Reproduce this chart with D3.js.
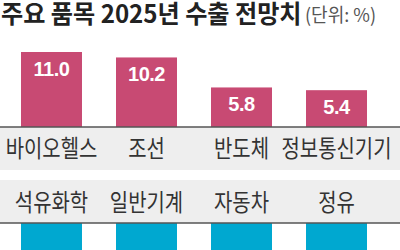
<!DOCTYPE html>
<html>
<head>
<meta charset="utf-8">
<script src="https://cdn.jsdelivr.net/npm/d3@7"></script>
<style>
  html, body { margin: 0; padding: 0; background: #fff; }
  svg { display: block; font-family: "Noto Sans CJK KR", "Noto Sans", sans-serif; }
</style>
</head>
<body>
<div id="chart"></div>
<script>
// chart data
const title = '주요 품목 2025년 수출 전망치';
const unitLabel = '(단위: %)';
const upCategories = ['바이오헬스', '조선', '반도체', '정보통신기기'];
const upValues = [11.0, 10.2, 5.8, 5.4];
const downCategories = ['석유화학', '일반기계', '자동차', '정유'];
const downValues = [-8.5, -8.2, -9.0, -11.5]; // cut off in the picture, estimated

const width = 400;
const height = 250;
const upBase = 127;
const downBase = 223;

const svg = d3.select('#chart')
  .append('svg')
  .attr('width', width)
  .attr('height', height);

// Title (the original font is a bit condensed, so squeeze it horizontally)
svg.append('text')
  .attr('transform', 'translate(1,23) scale(0.965,1)')
  .attr('font-size', 25)
  .attr('font-weight', 700)
  .attr('fill', '#222')
  .text(title);

svg.append('text')
  .attr('transform', 'translate(305,22) scale(0.95,1)')
  .attr('font-size', 19)
  .attr('fill', '#555')
  .text(unitLabel);

// Scales
const x = d3.scaleBand()
  .domain(d3.range(4))
  .range([0, 388])
  .paddingInner(0.358)
  .paddingOuter(0.221);

// px per unit shared by both halves
const yUp = d3.scaleLinear().domain([0, 11]).range([upBase, 52]);
const yDown = d3.scaleLinear().domain([0, -11]).range([downBase, downBase + (upBase - 52)]);

// Gray label bands
svg.append('rect')
  .attr('x', 0).attr('y', upBase)
  .attr('width', width).attr('height', 170 - upBase)
  .attr('fill', '#eeeeee');

svg.append('rect')
  .attr('x', 0).attr('y', 180)
  .attr('width', width).attr('height', downBase - 180)
  .attr('fill', '#eeeeee');

function catLabels(g, cats, baseY) {
  g.selectAll('text.cat')
    .data(cats)
    .enter()
    .append('text')
    .attr('class', 'cat')
    .attr('transform', (d, i) => `translate(${x(i) + x.bandwidth() / 2},${baseY}) scale(0.83,1)`)
    .attr('text-anchor', 'middle')
    .attr('font-size', 24)
    .attr('fill', '#333')
    .text(d => d);
}

// Upper bars (pink)
const up = svg.append('g');
up.selectAll('rect')
  .data(upValues)
  .enter()
  .append('rect')
  .attr('x', (d, i) => x(i))
  .attr('y', d => yUp(d))
  .attr('width', x.bandwidth())
  .attr('height', d => upBase - yUp(d))
  .attr('fill', '#c84a73');

up.selectAll('text.val')
  .data(upValues)
  .enter()
  .append('text')
  .attr('class', 'val')
  .attr('x', (d, i) => x(i) + x.bandwidth() / 2)
  .attr('y', d => yUp(d) + 24)
  .attr('text-anchor', 'middle')
  .attr('font-family', '"Liberation Sans", Arial, sans-serif')
  .attr('font-size', 20)
  .attr('font-weight', 700)
  .attr('letter-spacing', -0.5)
  .attr('fill', '#fff')
  .text(d => d.toFixed(1));

catLabels(up, upCategories, 157);

svg.append('line')
  .attr('x1', 0).attr('x2', width)
  .attr('y1', upBase).attr('y2', upBase)
  .attr('stroke', '#555')
  .attr('stroke-width', 1.5);

// Lower bars (blue), they run past the bottom edge
const down = svg.append('g');
down.selectAll('rect')
  .data(downValues)
  .enter()
  .append('rect')
  .attr('x', (d, i) => x(i))
  .attr('y', downBase)
  .attr('width', x.bandwidth())
  .attr('height', d => yDown(d) - downBase)
  .attr('fill', '#00a8d0');

catLabels(down, downCategories, 211);

svg.append('line')
  .attr('x1', 0).attr('x2', width)
  .attr('y1', downBase).attr('y2', downBase)
  .attr('stroke', '#555')
  .attr('stroke-width', 1.5);
</script>
</body>
</html>
